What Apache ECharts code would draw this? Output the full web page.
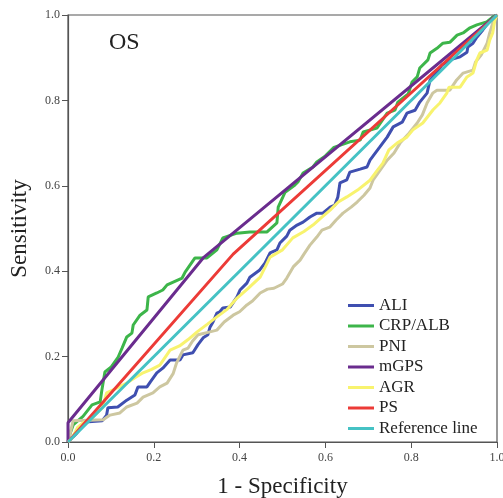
<!DOCTYPE html>
<html>
<head>
<meta charset="utf-8">
<script src="https://cdn.jsdelivr.net/npm/echarts@6/dist/echarts.min.js"></script>
<style>html,body{margin:0;padding:0;background:#fff;}#c{width:503px;height:498px;}</style>
</head>
<body>
<div id="c"></div>
<script>
var seriesNames = ['ALI', 'CRP/ALB', 'PNI', 'mGPS', 'AGR', 'PS', 'Reference line'];
var axisTicks = [0, 0.2, 0.4, 0.6, 0.8, 1.0];

var ali = [[0,0],[0.02,0.02],[0.04,0.047],[0.08,0.05],[0.09,0.063],[0.093,0.08],[0.116,0.082],[0.137,0.098],[0.156,0.11],[0.163,0.129],[0.184,0.129],[0.192,0.141],[0.207,0.162],[0.221,0.173],[0.238,0.192],[0.261,0.192],[0.268,0.204],[0.291,0.209],[0.303,0.228],[0.315,0.244],[0.326,0.251],[0.331,0.269],[0.338,0.281],[0.347,0.302],[0.354,0.305],[0.361,0.314],[0.378,0.316],[0.394,0.340],[0.401,0.356],[0.417,0.372],[0.424,0.386],[0.447,0.403],[0.459,0.419],[0.471,0.443],[0.487,0.450],[0.494,0.466],[0.510,0.482],[0.517,0.496],[0.534,0.508],[0.548,0.515],[0.564,0.527],[0.580,0.536],[0.594,0.536],[0.611,0.550],[0.622,0.555],[0.629,0.574],[0.634,0.607],[0.650,0.614],[0.657,0.632],[0.681,0.639],[0.697,0.644],[0.704,0.660],[0.727,0.691],[0.744,0.714],[0.758,0.738],[0.779,0.749],[0.790,0.770],[0.809,0.777],[0.820,0.796],[0.837,0.817],[0.844,0.848],[0.860,0.866],[0.872,0.883],[0.890,0.895],[0.914,0.902],[0.930,0.913],[0.932,0.925],[0.944,0.934],[0.953,0.948],[0.967,0.965],[0.99,0.995],[1,1]];

var crpAlb = [[0,0],[0.005,0.02],[0.012,0.04],[0.016,0.044],[0.035,0.06],[0.056,0.087],[0.075,0.094],[0.079,0.122],[0.086,0.164],[0.10,0.175],[0.117,0.199],[0.126,0.220],[0.137,0.246],[0.149,0.255],[0.152,0.274],[0.168,0.297],[0.184,0.309],[0.187,0.340],[0.207,0.349],[0.221,0.356],[0.231,0.368],[0.266,0.384],[0.273,0.398],[0.296,0.431],[0.324,0.431],[0.347,0.450],[0.361,0.478],[0.394,0.489],[0.424,0.492],[0.464,0.492],[0.487,0.513],[0.490,0.550],[0.501,0.574],[0.506,0.585],[0.529,0.602],[0.536,0.609],[0.548,0.630],[0.571,0.644],[0.58,0.656],[0.60,0.67],[0.62,0.69],[0.657,0.703],[0.681,0.707],[0.688,0.726],[0.720,0.735],[0.744,0.770],[0.762,0.777],[0.769,0.796],[0.793,0.815],[0.802,0.843],[0.814,0.855],[0.82,0.876],[0.839,0.895],[0.844,0.911],[0.860,0.922],[0.874,0.934],[0.890,0.936],[0.907,0.953],[0.921,0.958],[0.937,0.970],[0.953,0.977],[0.976,0.984],[0.99,0.995],[1,1]];

var pni = [[0,0],[0.005,0.02],[0.012,0.05],[0.082,0.052],[0.098,0.063],[0.121,0.068],[0.137,0.082],[0.161,0.091],[0.175,0.105],[0.198,0.115],[0.214,0.129],[0.231,0.138],[0.245,0.16],[0.253,0.185],[0.268,0.215],[0.28,0.22],[0.29,0.236],[0.303,0.251],[0.331,0.258],[0.347,0.262],[0.364,0.281],[0.385,0.297],[0.40,0.305],[0.417,0.321],[0.43,0.33],[0.448,0.349],[0.465,0.358],[0.48,0.36],[0.50,0.37],[0.51,0.384],[0.525,0.41],[0.541,0.426],[0.55,0.44],[0.564,0.461],[0.58,0.48],[0.592,0.496],[0.61,0.503],[0.625,0.52],[0.641,0.536],[0.66,0.55],[0.674,0.562],[0.69,0.578],[0.704,0.595],[0.711,0.613],[0.728,0.637],[0.744,0.660],[0.76,0.677],[0.774,0.700],[0.795,0.723],[0.814,0.747],[0.826,0.766],[0.837,0.794],[0.85,0.817],[0.86,0.824],[0.89,0.824],[0.906,0.848],[0.921,0.864],[0.944,0.871],[0.95,0.89],[0.963,0.906],[0.977,0.934],[0.983,0.958],[0.99,0.981],[1,1]];

var mgps = [[0,0],[0,0.045],[0.315,0.431],[1,1]];

var agr = [[0,0],[0.01,0.01],[0.023,0.035],[0.035,0.045],[0.051,0.052],[0.08,0.08],[0.09,0.115],[0.105,0.122],[0.137,0.138],[0.155,0.15],[0.175,0.162],[0.195,0.17],[0.214,0.18],[0.238,0.215],[0.26,0.225],[0.28,0.24],[0.301,0.258],[0.325,0.276],[0.347,0.293],[0.37,0.31],[0.394,0.337],[0.42,0.36],[0.448,0.386],[0.46,0.41],[0.471,0.433],[0.50,0.45],[0.524,0.478],[0.55,0.493],[0.571,0.508],[0.59,0.525],[0.611,0.543],[0.63,0.562],[0.65,0.574],[0.675,0.59],[0.704,0.613],[0.72,0.635],[0.734,0.653],[0.748,0.684],[0.767,0.700],[0.79,0.714],[0.804,0.731],[0.827,0.747],[0.851,0.778],[0.867,0.794],[0.883,0.817],[0.888,0.831],[0.914,0.831],[0.93,0.855],[0.944,0.864],[0.953,0.895],[0.96,0.911],[0.977,0.918],[0.983,0.941],[0.99,0.958],[0.995,0.988],[1,1]];

var ps = [[0,0],[0.385,0.44],[1,1]];
var refLine = [[0,0],[1,1]];

var seriesData = [ali, crpAlb, pni, mgps, agr, ps, refLine];
var colors = ['#3F4FB0', '#3DB54A', '#CDC7A0', '#6A2C8E', '#F8F36E', '#EC3B37', '#45C2C4'];

var chart = echarts.init(document.getElementById('c'));
var serif = '"Liberation Serif", "DejaVu Serif", serif';
var option = {
  animation: false,
  backgroundColor: '#fff',
  grid: { left: 68, right: 6, top: 15, bottom: 56, show: true, borderColor: '#555', borderWidth: 1.2,
    containLabel: false, outerBoundsMode: 'none' },
  legend: {
    data: seriesNames,
    orient: 'vertical',
    left: 343, top: 292,
    icon: 'rect', itemWidth: 26, itemHeight: 3, itemGap: 3.5,
    textStyle: { fontFamily: serif, fontSize: 17, color: '#222', lineHeight: 17 }
  },
  graphic: [{ type: 'text', left: 109, top: 31, style: { text: 'OS', font: '24px ' + serif, fill: '#222' } }],
  xAxis: {
    type: 'value', min: 0, max: 1, interval: 0.2,
    name: '1 - Specificity', nameLocation: 'middle', nameGap: 33,
    nameTextStyle: { fontFamily: serif, fontSize: 23, color: '#222' },
    axisLine: { lineStyle: { color: '#555', width: 1.2 } },
    axisTick: { show: true, length: 6, lineStyle: { color: '#555' } },
    axisLabel: { fontFamily: serif, fontSize: 12, color: '#444', margin: 10, formatter: function(v){ return v.toFixed(1); } },
    splitLine: { show: false }
  },
  yAxis: {
    type: 'value', min: 0, max: 1, interval: 0.2,
    name: 'Sensitivity', nameLocation: 'middle', nameGap: 37,
    nameTextStyle: { fontFamily: serif, fontSize: 23, color: '#222' },
    axisLine: { lineStyle: { color: '#555', width: 1.2 } },
    axisTick: { show: true, length: 6, lineStyle: { color: '#555' } },
    axisLabel: { fontFamily: serif, fontSize: 12, color: '#444', margin: 8, formatter: function(v){ return v.toFixed(1); } },
    splitLine: { show: false }
  },
  series: seriesNames.map(function(n, i){
    return { name: n, type: 'line', data: seriesData[i], showSymbol: false, symbol: 'none',
      color: colors[i], lineStyle: { width: 3, color: colors[i] }, clip: true };
  })
};
chart.setOption(option);
</script>
</body>
</html>
